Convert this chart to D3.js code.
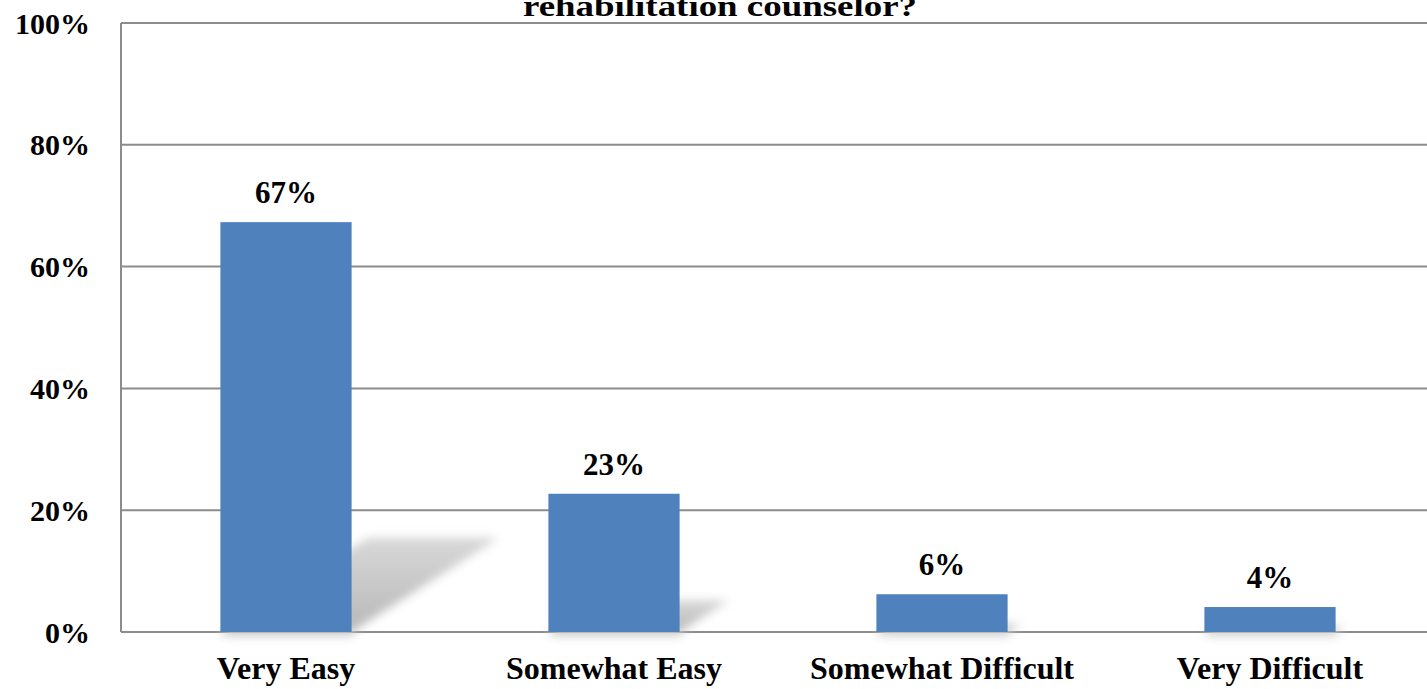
<!DOCTYPE html>
<html><head><meta charset="utf-8">
<script src="https://cdn.jsdelivr.net/npm/d3@7/dist/d3.min.js"></script>
<style>body{margin:0;background:#fff;overflow:hidden}svg{display:block}</style>
</head><body>
<svg id="c" width="1427" height="689"></svg>
<script>
const categories = ["Very Easy", "Somewhat Easy", "Somewhat Difficult", "Very Difficult"];
const values = [67.3, 22.7, 6.2, 4.1];
const valueLabels = ["67%", "23%", "6%", "4%"];
const yTicks = [0, 20, 40, 60, 80, 100];
const titleVisible = "rehabilitation counselor?";

(function () {
const svg = d3.select("#c");
const font = "'Liberation Serif','Times New Roman',serif";
const pLeft = 121, pRight = 1433, pTop = 23, pBottom = 632;

const x = d3.scaleBand().domain(categories).range([pLeft + 1, pRight + 1]).paddingInner(0.6).paddingOuter(0.3);
const y = d3.scaleLinear().domain([0, 100]).range([pBottom, pTop]);

const defs = svg.append("defs");
defs.append("filter").attr("id", "blur").attr("x", "-50%").attr("y", "-50%").attr("width", "200%").attr("height", "200%")
  .append("feGaussianBlur").attr("stdDeviation", 5);
const lg = defs.append("linearGradient").attr("id", "sg").attr("x1", 0).attr("y1", 1).attr("x2", 0).attr("y2", 0);
lg.append("stop").attr("offset", "0%").attr("stop-color", "#b8b8b8");
lg.append("stop").attr("offset", "100%").attr("stop-color", "#d8d8d8");

// title (partially cut at top, as in the reference)
svg.append("text").attr("x", 720).attr("y", 16).attr("text-anchor", "middle")
  .attr("font-family", font).attr("font-weight", "bold").attr("font-size", 29)
  .attr("textLength", 394).attr("lengthAdjust", "spacingAndGlyphs").text(titleVisible);

// gridlines
svg.append("g").selectAll("line").data(yTicks).join("line")
  .attr("x1", pLeft).attr("x2", 1427).attr("y1", d => y(d)).attr("y2", d => y(d))
  .attr("stroke", "#8c8c8c").attr("stroke-width", 2);
// y axis line
svg.append("line").attr("x1", pLeft).attr("x2", pLeft).attr("y1", pTop).attr("y2", pBottom)
  .attr("stroke", "#8c8c8c").attr("stroke-width", 2);

// y tick labels
svg.append("g").selectAll("text").data(yTicks).join("text")
  .attr("x", 90).attr("y", d => y(d)).attr("dy", "0.35em").attr("text-anchor", "end")
  .attr("font-family", font).attr("font-weight", "bold").attr("font-size", 30)
  .text(d => d + "%");

// shadows
const shadowG = svg.append("g").attr("filter", "url(#blur)");
categories.forEach((c, i) => {
  const x0 = x(c), x1 = x(c) + x.bandwidth();
  const h = y(0) - y(values[i]);
  const sh = 0.23 * h, sk = 0.36 * h;
  const pts = [[x0, y(0)], [x1, y(0)], [x1 + sk, y(0) - sh], [x0 + sk, y(0) - sh]];
  shadowG.append("polygon").attr("points", pts.map(p => p.join(",")).join(" "))
    .attr("fill", "url(#sg)");
  shadowG.append("rect").attr("x", x0 + 2).attr("y", y(0) - 2).attr("width", x.bandwidth()).attr("height", 6)
    .attr("fill", "#d0d0d0");
});

// bars
svg.append("g").selectAll("rect").data(values).join("rect")
  .attr("x", (d, i) => x(categories[i])).attr("width", x.bandwidth())
  .attr("y", d => y(d)).attr("height", d => y(0) - y(d))
  .attr("fill", "#4f81bd");

// value labels
svg.append("g").selectAll("text").data(values).join("text")
  .attr("x", (d, i) => x(categories[i]) + x.bandwidth() / 2)
  .attr("y", d => y(d) - 19).attr("text-anchor", "middle")
  .attr("font-family", font).attr("font-weight", "bold").attr("font-size", 31)
  .text((d, i) => valueLabels[i]);

// category labels
svg.append("g").selectAll("text").data(categories).join("text")
  .attr("x", d => x(d) + x.bandwidth() / 2).attr("y", 679).attr("text-anchor", "middle")
  .attr("font-family", font).attr("font-weight", "bold").attr("font-size", 32)
  .text(d => d);
})();
</script>
</body></html>
